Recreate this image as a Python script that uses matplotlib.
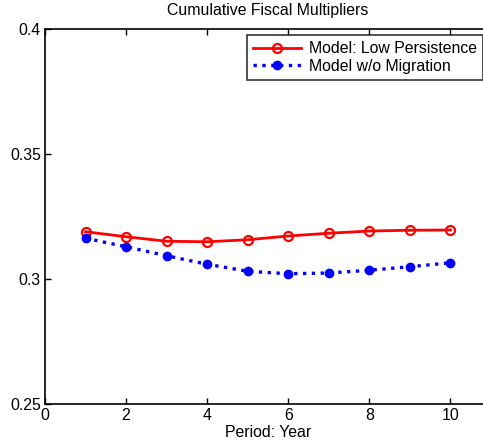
import matplotlib.pyplot as plt

# cumulative fiscal multipliers by year
years = [1, 2, 3, 4, 5, 6, 7, 8, 9, 10]
low_persistence = [0.3189, 0.3169, 0.3151, 0.3149, 0.3157, 0.3172, 0.3183, 0.3192, 0.3195, 0.3196]
no_migration = [0.3163, 0.3129, 0.3093, 0.3059, 0.3031, 0.3021, 0.3024, 0.3035, 0.3049, 0.3065]

x_ticks = [0, 2, 4, 6, 8, 10]
y_ticks = [0.25, 0.3, 0.35, 0.4]

plt.rcParams["font.family"] = ["Liberation Sans", "DejaVu Sans"]
plt.rcParams["font.size"] = 11.4

fig = plt.figure(figsize=(4.83, 4.47), dpi=100)
ax = fig.add_axes([45 / 483, 43 / 447, 446 / 483, 375 / 447])

ax.plot(years, low_persistence, "-o", color="red", lw=2, ms=6.5,
        mfc="none", mec="red", mew=1.6, label="Model: Low Persistence")
ax.plot(years, no_migration, ":o", color="blue", lw=2.4, ms=6,
        mfc="blue", mec="blue", label="Model w/o Migration")

ax.set_xlim(0, 11)
ax.set_ylim(0.25, 0.4)
ax.set_xticks(x_ticks)
ax.set_yticks(y_ticks)
ax.set_yticklabels(["0.25", "0.3", "0.35", "0.4"])
ax.tick_params(direction="in", length=4, width=1, top=True, right=True, pad=3)
for s in ax.spines.values():
    s.set_linewidth(1.2)

ax.set_title("Cumulative Fiscal Multipliers", fontsize=11.4, pad=10)
ax.set_xlabel("Period: Year", labelpad=1)

leg = ax.legend(loc="upper left", bbox_to_anchor=(202 / 446, 369 / 375),
                borderaxespad=0, frameon=True, fancybox=False,
                handlelength=3.0, handletextpad=0.5, borderpad=0.4,
                labelspacing=0.15)
leg.get_frame().set_edgecolor("black")
leg.get_frame().set_linewidth(1.2)

fig.savefig("out.png", dpi=100)
